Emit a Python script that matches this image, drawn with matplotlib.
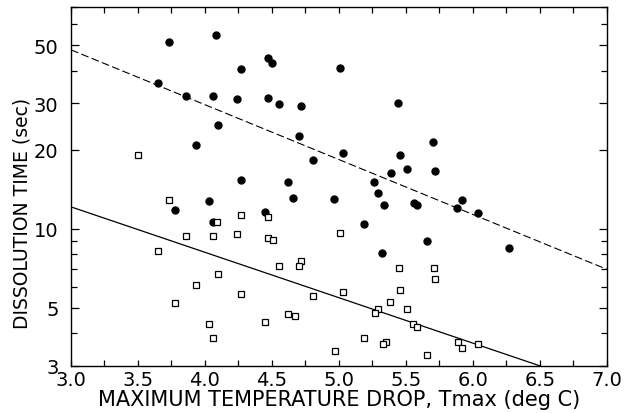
import matplotlib
matplotlib.use("Agg")
import matplotlib.pyplot as plt
from matplotlib.ticker import FixedLocator, FixedFormatter, MultipleLocator, NullFormatter

# filled circles (upper group)
circ_x = [3.65, 3.73, 4.08, 3.86, 4.06, 4.24, 4.27, 4.47, 4.50, 4.47, 4.55, 4.72,
          5.01, 4.10, 3.93, 4.70, 5.03, 4.81, 4.27, 4.62, 4.03, 4.66, 4.96, 3.78,
          4.45, 4.06, 5.44, 5.70, 5.46, 5.39, 5.51, 5.72, 5.26, 5.29, 5.34, 5.56,
          5.58, 5.92, 5.88, 6.04, 5.19, 5.66, 5.32, 6.27]
circ_y = [36.0, 51.5, 54.7, 31.9, 31.9, 31.3, 40.5, 44.8, 42.9, 31.5, 29.8, 29.3,
          41.1, 24.9, 20.9, 22.6, 19.5, 18.3, 15.3, 15.1, 12.7, 13.1, 12.95, 11.8,
          11.6, 10.6, 30.1, 21.4, 19.1, 16.3, 16.8, 16.6, 15.1, 13.7, 12.3, 12.5,
          12.3, 12.9, 12.0, 11.5, 10.4, 9.0, 8.06, 8.46]

# open squares (lower group)
sq_x = [3.50, 3.73, 4.09, 4.27, 4.47, 3.86, 4.06, 4.24, 4.47, 4.51, 5.01, 3.65,
        4.72, 4.55, 4.70, 4.10, 3.93, 4.27, 4.81, 5.03, 3.78, 4.03, 4.06, 4.45,
        4.62, 4.67, 4.97, 5.45, 5.71, 5.72, 5.46, 5.38, 5.51, 5.29, 5.27, 5.55,
        5.58, 5.19, 5.35, 5.33, 5.89, 5.92, 6.04, 5.66]
sq_y = [19.1, 12.8, 10.6, 11.3, 11.1, 9.36, 9.36, 9.57, 9.24, 9.08, 9.66, 8.22,
        7.55, 7.22, 7.19, 6.72, 6.11, 5.63, 5.55, 5.75, 5.22, 4.32, 3.82, 4.40,
        4.72, 4.64, 3.42, 7.06, 7.06, 6.44, 5.85, 5.25, 4.94, 4.93, 4.76, 4.34,
        4.22, 3.83, 3.70, 3.62, 3.70, 3.50, 3.62, 3.31]

# fitted lines
dash_x = [3.0, 7.0]
dash_y = [48.0, 7.0]
solid_x = [3.0, 6.5]
solid_y = [12.1, 3.0]

ytick_vals = [3, 5, 10, 20, 30, 50]
ytick_labels = ["3", "5", "10", "20", "30", "50"]
yminor = [4, 6, 7, 8, 9, 40, 60, 70]

fig = plt.figure(figsize=(6.34, 4.14), dpi=100)
ax = fig.add_axes([0.112, 0.114, 0.845, 0.867])

ax.plot(circ_x, circ_y, 'o', color='black', markersize=5, zorder=3)
ax.plot(sq_x, sq_y, 's', markerfacecolor='white', markeredgecolor='black',
        markersize=4.5, markeredgewidth=0.9, zorder=3)
ax.plot(dash_x, dash_y, color='black', lw=0.8, dashes=(7, 3))
ax.plot(solid_x, solid_y, color='black', lw=0.9)

ax.set_yscale('log')
ax.set_xlim(3.0, 7.0)
ax.set_ylim(3, 70)
ax.yaxis.set_major_locator(FixedLocator(ytick_vals))
ax.yaxis.set_major_formatter(FixedFormatter(ytick_labels))
ax.yaxis.set_minor_locator(FixedLocator(yminor))
ax.yaxis.set_minor_formatter(NullFormatter())
ax.xaxis.set_major_locator(MultipleLocator(0.5))
ax.xaxis.set_minor_locator(MultipleLocator(0.25))
ax.xaxis.set_major_formatter(plt.FuncFormatter(lambda v, p: f"{v:.1f}"))

ax.tick_params(which='both', direction='in', top=True, right=True, labelsize=14, width=0.9)
ax.tick_params(axis='x', which='both', length=4, pad=3)
ax.tick_params(axis='y', which='major', length=6, pad=9)
ax.tick_params(axis='y', which='minor', length=4)
for s in ax.spines.values():
    s.set_linewidth(1.0)

ax.set_xlabel("MAXIMUM TEMPERATURE DROP, Tmax (deg C)", fontsize=15, labelpad=0)
ax.set_ylabel("DISSOLUTION TIME (sec)", fontsize=13.5)
ax.yaxis.set_label_coords(-0.073, 0.426)

fig.savefig("out.png", dpi=100)
